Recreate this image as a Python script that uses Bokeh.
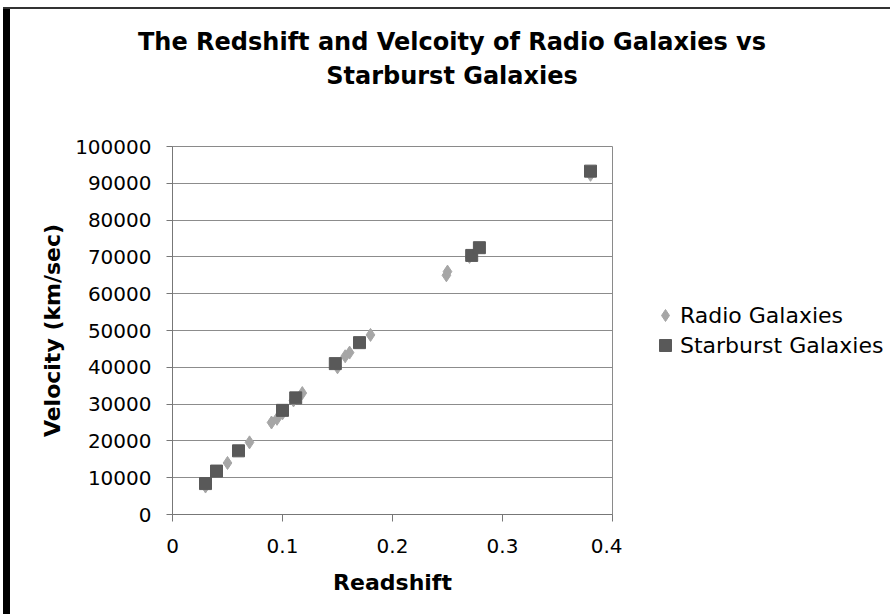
from bokeh.plotting import figure
from bokeh.models import (Legend, LegendItem, FixedTicker, Div, Spacer, Range1d)
from bokeh.layouts import column, row
from bokeh.embed import file_html
from bokeh.resources import INLINE

# ---- data ----
radio_z = [0.03, 0.05, 0.07, 0.09, 0.095, 0.10, 0.11, 0.118, 0.15, 0.157, 0.161,
           0.18, 0.249, 0.25, 0.27, 0.38]
radio_v = [7600, 14000, 19600, 25000, 26000, 27500, 31000, 33000, 40000, 43000,
           44000, 48800, 65000, 66000, 70000, 92300]

star_z = [0.03, 0.04, 0.06, 0.10, 0.112, 0.148, 0.17, 0.272, 0.279, 0.38]
star_v = [8400, 11800, 17300, 28300, 31700, 41000, 46700, 70400, 72500, 93300]

x_ticks = [0, 0.1, 0.2, 0.3, 0.4]
x_tick_labels = ["0", "0.1", "0.2", "0.3", "0.4"]
y_ticks = [0, 10000, 20000, 30000, 40000, 50000, 60000, 70000, 80000, 90000, 100000]

title_lines = ["The Redshift and Velcoity of Radio Galaxies vs", "Starburst Galaxies"]
x_label = "Readshift"
y_label = "Velocity (km/sec)"
series_names = ["Radio Galaxies", "Starburst Galaxies"]

FONT = "DejaVu Sans"
RADIO_COLOR = "#a6a6a6"
STAR_COLOR = "#595959"

# ---- main plot ----
p = figure(width=612, height=498, output_backend="svg", toolbar_location=None,
           title=None,
           x_range=Range1d(0, 0.4), y_range=Range1d(0, 100000),
           min_border_left=162, min_border_right=10, min_border_top=30,
           min_border_bottom=100)
p.background_fill_color = "white"
p.border_fill_color = "white"
p.outline_line_color = "#8a8a8a"
p.outline_line_width = 1

p.xgrid.grid_line_color = None
p.ygrid.grid_line_color = "#8c8c8c"
p.ygrid.grid_line_width = 1

for ax in (p.xaxis[0], p.yaxis[0]):
    ax.axis_line_color = "#777777"
    ax.major_tick_line_color = "#777777"
    ax.minor_tick_line_color = None
    ax.major_tick_in = 0
    ax.major_label_text_font = FONT
    ax.major_label_text_font_size = "20px"
    ax.major_label_text_color = "black"
    ax.axis_label_text_font = FONT
    ax.axis_label_text_font_size = "22px"
    ax.axis_label_text_font_style = "bold"
    ax.axis_label_text_color = "black"

p.xaxis.ticker = FixedTicker(ticks=x_ticks)
p.xaxis.major_label_overrides = dict(zip(x_ticks, x_tick_labels))
p.xaxis.major_tick_out = 7
p.xaxis.major_label_standoff = 17
p.xaxis.axis_label = x_label
p.xaxis.axis_label_standoff = 14

p.yaxis.ticker = FixedTicker(ticks=y_ticks)
p.yaxis.major_label_overrides = {t: str(t) for t in y_ticks}
p.yaxis.major_tick_out = 6
p.yaxis.major_label_standoff = 15
p.yaxis.axis_label = y_label
p.yaxis.axis_label_standoff = 7

p.scatter(radio_z, radio_v, marker="diamond", size=13,
          fill_color=RADIO_COLOR, line_color=RADIO_COLOR)
p.scatter(star_z, star_v, marker="square", size=12,
          fill_color=STAR_COLOR, line_color=STAR_COLOR)

# ---- legend panel (separate figure; its renderers use the same data but
#      its ranges keep them out of view, so only the legend shows) ----
lg = figure(width=268, height=498, output_backend="svg", toolbar_location=None,
            title=None, x_axis_type=None, y_axis_type=None,
            x_range=Range1d(0, 1), y_range=Range1d(-2, -1),
            min_border=0, min_border_left=0, min_border_right=0,
            min_border_top=0, min_border_bottom=0)
lg.outline_line_color = None
lg.xgrid.visible = False
lg.ygrid.visible = False
lg.background_fill_color = "white"
lg.border_fill_color = "white"
d1 = lg.scatter(radio_z, radio_v, marker="diamond", size=13,
                fill_color=RADIO_COLOR, line_color=RADIO_COLOR)
d2 = lg.scatter(star_z, star_v, marker="square", size=12,
                fill_color=STAR_COLOR, line_color=STAR_COLOR)
legend = Legend(items=[LegendItem(label=series_names[0], renderers=[d1]),
                       LegendItem(label=series_names[1], renderers=[d2])],
                location=(28, 154), orientation="vertical",
                glyph_width=30, glyph_height=30, label_standoff=0, spacing=-1,
                padding=0, margin=0, border_line_color=None,
                background_fill_alpha=0,
                label_text_font=FONT, label_text_font_size="22px",
                label_text_color="black")
lg.add_layout(legend)

# ---- title (real text, two centred lines) ----
title_html = ('<div style="padding-top:16px;margin-left:4px;font-family:\'DejaVu Sans\';'
              'font-weight:bold;font-size:24px;line-height:34px;text-align:center;'
              'color:black;width:876px">' + "<br>".join(title_lines) + "</div>")
title_div = Div(text=title_html, width=880, height=107, margin=0)

top_line = Div(width=887, height=2, margin=0, styles={"background-color": "#333333"})
left_bar = Div(width=7, height=605, margin=0, styles={"background-color": "black"})

layout = column(
    Spacer(width=890, height=7, margin=0),
    row(Spacer(width=3, height=2, margin=0), top_line),
    row(Spacer(width=3, height=605, margin=0), left_bar,
        column(title_div, row(p, lg))),
)

open("out.html", "w").write(file_html(layout, INLINE))
